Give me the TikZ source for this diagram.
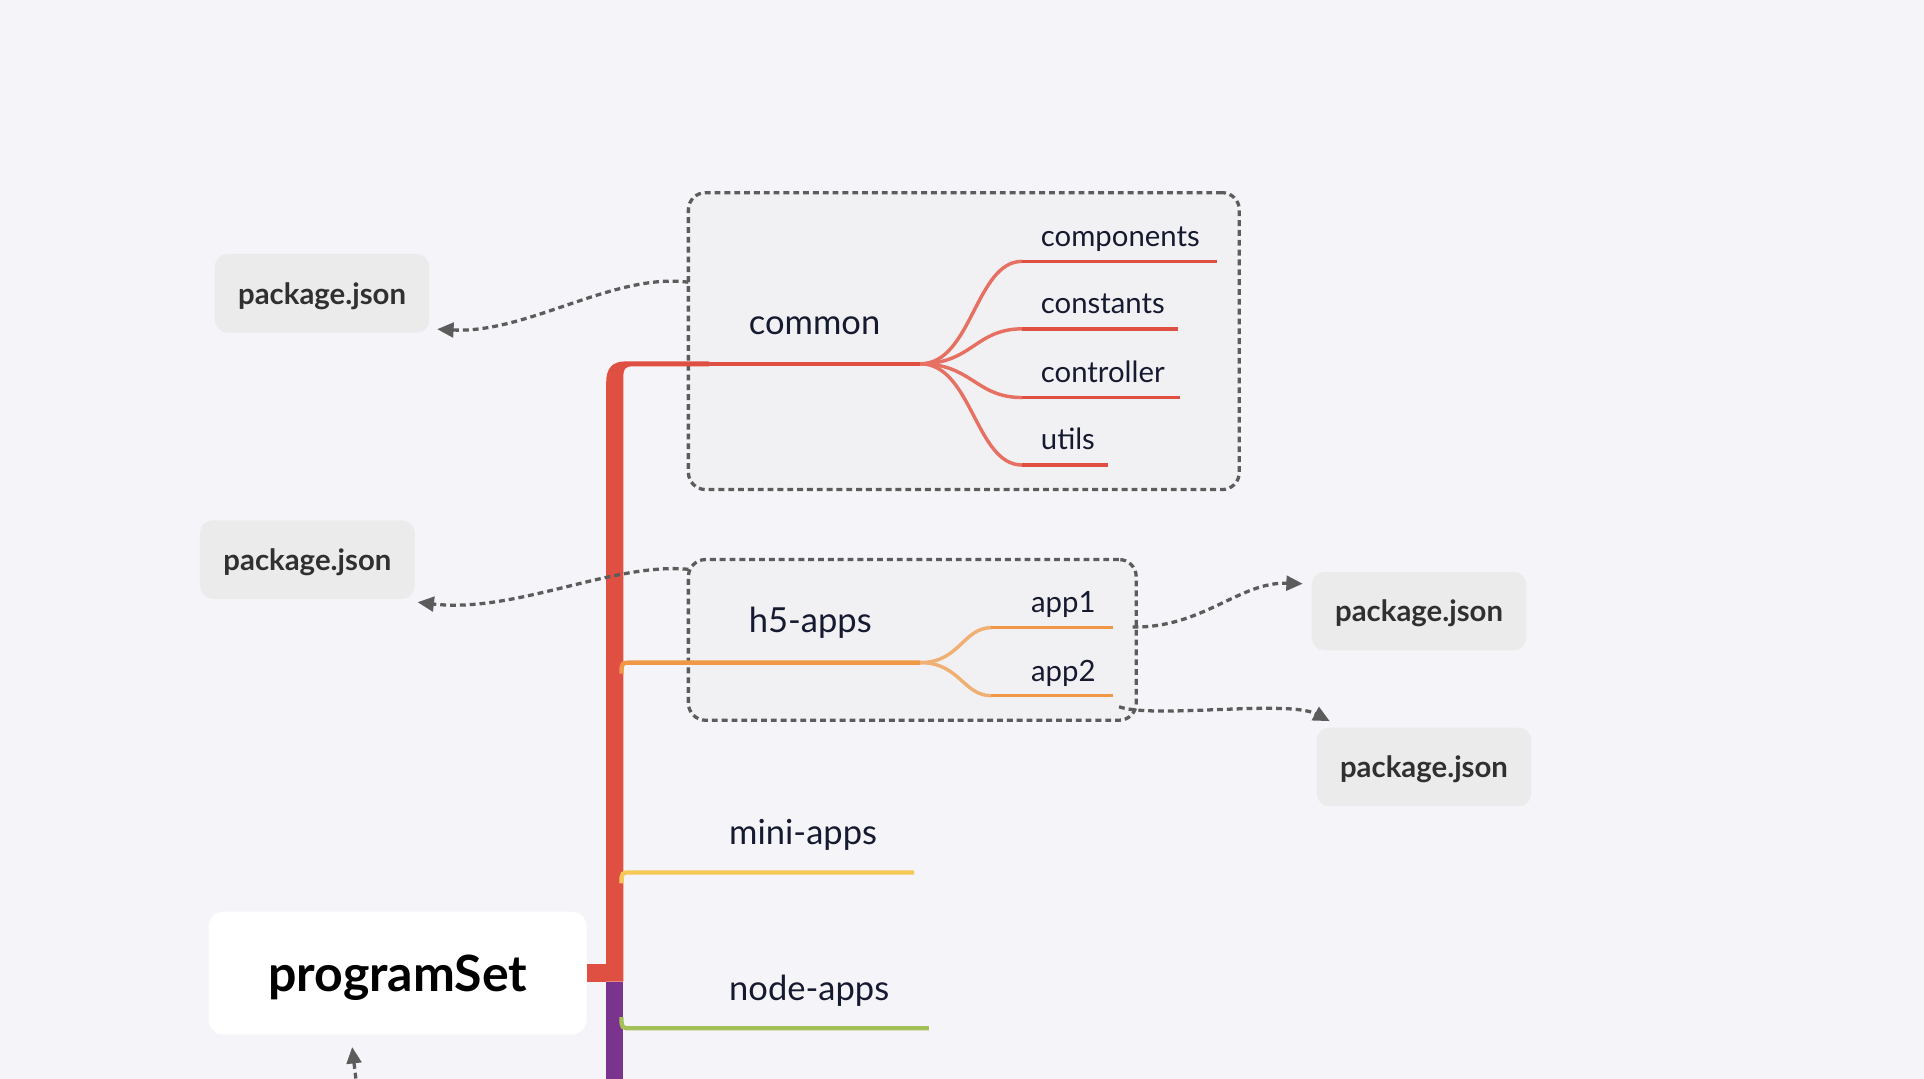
\documentclass[tikz,border=0pt]{standalone}
\usepackage{fontspec}
\setmainfont{Lato}
\usetikzlibrary{arrows.meta,fit,calc,positioning}
\definecolor{bgcol}{RGB}{245,245,249}
\definecolor{boxfill}{RGB}{241,241,244}
\definecolor{pkgfill}{RGB}{235,235,236}
\definecolor{dashgray}{RGB}{92,92,92}
\definecolor{branchred}{RGB}{224,80,66}
\definecolor{curvered}{RGB}{230,112,98}
\definecolor{branchorange}{RGB}{240,152,70}
\definecolor{curveorange}{RGB}{240,175,115}
\definecolor{branchyellow}{RGB}{246,200,85}
\definecolor{branchgreen}{RGB}{165,192,88}
\definecolor{branchpurple}{RGB}{122,52,142}
\definecolor{labeltext}{RGB}{22,26,48}
\definecolor{pkgtext}{RGB}{48,48,48}
\tikzset{>={Triangle[length=9.5pt,width=8.5pt]}}
\tikzset{
  groupbox/.style={draw=dashgray, fill=boxfill, line width=1.9pt, dash pattern=on 3.4pt off 2.3pt, rounded corners=10pt, inner sep=0pt},
  pkgbox/.style={fill=pkgfill, rounded corners=7.5pt, minimum width=4.375cm, minimum height=1.6cm, text depth=0pt, text=pkgtext, font=\fontsize{17}{20}\selectfont\bfseries},
  rootbox/.style={fill=white, rounded corners=8.5pt, minimum width=7.7cm, minimum height=2.5cm, text depth=0pt, font=\fontsize{29}{34}\selectfont\bfseries},
  mainlabel/.style={anchor=base west, inner sep=0pt, text=labeltext, font=\fontsize{20}{24}\selectfont},
  sublabel/.style={anchor=base west, inner sep=0pt, text=labeltext, font=\fontsize{17}{20}\selectfont},
  mainline/.style={line width=2.5pt},
  subline/.style={line width=2pt},
  relation/.style={draw=dashgray, line width=1.9pt, dash pattern=on 3.4pt off 2.3pt, ->},
}

\begin{document}
\begin{tikzpicture}[x=0.025cm,y=-0.025cm]
    \fill[bgcol] (0,0) rectangle (1568,879);
    \useasboundingbox (0,0) rectangle (1568,879);

    % dashed frames
    \node (commonBox) [groupbox, fit={(561,157) (1010,399)}] {};
    \node (h5Box) [groupbox, fit={(561,456) (926,587)}] {};

    % trunk
    \fill[branchred] (494,800) -- (494,312) .. controls (494,300) and (499,294.5) .. (510,294.5)
        -- (578,294.5) -- (578,298.5) -- (515,298.5) .. controls (510,298.5) and (508,301) .. (508,306)
        -- (508,800) -- cycle;
    \fill[branchpurple] (494,800) rectangle (508,879);

    % root
    \node (root) [rootbox] at (324,793) {programSet};
    \fill[branchred] (root.east) ++(0,-7) rectangle (494,800);

    % common
    \draw[mainline, branchred] (576,296.5) -- (750,296.5);
    \node (common) [mainlabel] at (610,273) {common};
    \foreach \yy/\xe/\lbl in {213/992/components, 268/960/constants, 324/962/controller, 379/903/utils} {
        \draw[subline, curvered] (750,296.5) .. controls (792,296.5) and (795,\yy) .. (833,\yy);
        \draw[subline, branchred] (833,\yy) -- (\xe,\yy);
        \node (\lbl) [sublabel] at (848,\yy-12.5) {\lbl};
    }

    % h5-apps
    \draw[mainline, branchorange] (506.5,549) .. controls (506.5,540) .. (515,540) -- (750,540);
    \node (h5apps) [mainlabel] at (610,515.5) {h5-apps};
    \foreach \yy/\lbl in {511.5/app1, 567/app2} {
        \draw[subline, curveorange] (750,540) .. controls (782,540) and (785,\yy) .. (808,\yy);
        \draw[subline, branchorange] (808,\yy) -- (907,\yy);
        \node (\lbl) [sublabel] at (840,\yy-12) {\lbl};
    }

    % mini-apps, node-apps
    \draw[mainline, branchyellow] (506.5,720) .. controls (506.5,711) .. (515,711) -- (745,711);
    \node (miniapps) [mainlabel] at (594,688) {mini-apps};
    \draw[mainline, branchgreen] (506.5,829) .. controls (506.5,838) .. (515,838) -- (757,838);
    \node (nodeapps) [mainlabel] at (594,815) {node-apps};

    % package.json boxes
    \node (pkgCommon) [pkgbox] at (262.5,239) {package.json};
    \node (pkgH5) [pkgbox] at (250.5,456) {package.json};
    \node (pkgAppOne) [pkgbox] at (1156.5,498) {package.json};
    \node (pkgAppTwo) [pkgbox] at (1160.5,625) {package.json};

    % relations
    \coordinate (commonTail) at (561,230);
    \coordinate (h5Tail) at (561,464);
    \coordinate (appOneTail) at (923,511);
    \coordinate (appTwoTail) at (912,576);
    \coordinate (bottomTail) at (290,879);
    \draw[relation] (commonTail) .. controls (500,222) and (430,272) .. ($(pkgCommon.south east)+(6,-3)$);
    \draw[relation] (h5Tail) .. controls (500,458) and (420,500) .. ($(pkgH5.south east)+(2,2.5)$);
    \draw[relation] (appOneTail) .. controls (980,512) and (1010,474) .. ($(pkgAppOne.north west)+(-7,10)$);
    \draw[relation] (appTwoTail) .. controls (940,586) and (1050,570) .. ($(pkgAppTwo.north west)+(11,-5)$);
    \draw[relation] (bottomTail) -- ($(root.south)+(-37,10)$);
\end{tikzpicture}
\end{document}
